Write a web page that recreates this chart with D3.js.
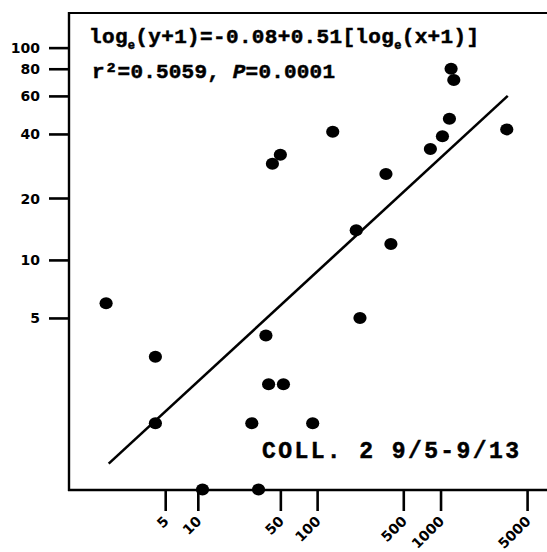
<!DOCTYPE html>
<html>
<head>
<meta charset="utf-8">
<script src="https://cdn.jsdelivr.net/npm/d3@7"></script>
<style>
  body { margin: 0; background: #fff; }
  svg { display: block; }
  .tick-label { font-family: 'DejaVu Sans', sans-serif; font-weight: bold; font-size: 14px; fill: #000; }
  .mono { font-family: 'Liberation Mono', 'Courier New', monospace; font-weight: bold; fill: #000; stroke: #000; stroke-width: 0.5px; }
</style>
</head>
<body>
<div class="chart"></div>
<script>
// data (counts, log(x+1) / log(y+1) axes)
const xCounts = [1, 4, 38, 40, 53, 4, 29, 92, 11, 33, 1217, 1280, 1180, 3427, 1036, 828, 134, 50, 43, 362, 208, 397, 223];
const yCounts = [6, 3, 4, 2, 2, 1, 1, 1, 0, 0, 80, 71, 47, 42, 39, 34, 41, 32, 29, 26, 14, 12, 5];

// ends of the drawn regression line
const fitX = [1.1, 3490];
const fitY = [0.31, 60];

const xTicks = [5, 10, 50, 100, 500, 1000, 5000];
const yTicks = [5, 10, 20, 40, 60, 80, 100];

const w = 547;
const h = 552;

const svg = d3.select('.chart')
  .append('svg')
    .attr('width', w)
    .attr('height', h);

// log(x+1) scales
const xScale = d3.scaleSymlog().constant(1)
  .domain([0, 7240])
  .range([68.8, 547]);

const yScale = d3.scaleSymlog().constant(1)
  .domain([0, 144])
  .range([489.5, 13]);

//frame top line
svg.append('line')
  .attr('x1', 68).attr('y1', 13)
  .attr('x2', w).attr('y2', 13)
  .attr('stroke', '#000')
  .attr('stroke-width', 2.2);

//y axis
const yAxis = svg.append('g')
  .attr('transform', 'translate(69,0)')
  .call(d3.axisLeft(yScale).tickValues(yTicks).tickSize(20).tickSizeOuter(0).tickPadding(9).tickFormat(d3.format('d')));

yAxis.select('.domain').attr('d', 'M0,12V491');
yAxis.selectAll('.tick text')
  .attr('class', 'tick-label')
  .attr('dy', '0.36em');

//x axis
const xAxis = svg.append('g')
  .attr('transform', 'translate(0,490)')
  .call(d3.axisBottom(xScale).tickValues(xTicks).tickSize(21).tickSizeOuter(0).tickFormat(d3.format('d')));

xAxis.select('.domain').attr('d', 'M68,0H547');
xAxis.selectAll('.tick text')
  .attr('class', 'tick-label')
  .attr('x', 0)
  .attr('y', 0)
  .attr('dy', null)
  .attr('text-anchor', 'end')
  .attr('transform', 'translate(4,32) rotate(-45)');

svg.selectAll('.domain').attr('stroke', '#000').attr('stroke-width', 2.4);
svg.selectAll('.tick line').attr('stroke', '#000').attr('stroke-width', 2.6);

//regression line
const fit = fitX.map((x, i) => [x, fitY[i]]);
svg.append('path')
  .datum(fit)
  .attr('d', d3.line().x(d => xScale(d[0])).y(d => yScale(d[1])))
  .attr('stroke', '#000')
  .attr('stroke-width', 2.6)
  .attr('fill', 'none');

//points
svg.append('g')
  .selectAll('ellipse')
  .data(xCounts.map((x, i) => ({ x: x, y: yCounts[i] })))
  .enter().append('ellipse')
    .attr('cx', d => xScale(d.x))
    .attr('cy', d => yScale(d.y))
    .attr('rx', 6.6)
    .attr('ry', 6)
    .attr('fill', '#000');

//equation text
const eq = svg.append('text')
  .attr('class', 'mono')
  .attr('x', 89)
  .attr('y', 42.5)
  .style('font-size', '21px')
  .attr('textLength', 390)
  .attr('lengthAdjust', 'spacing');
eq.append('tspan').text('log');
eq.append('tspan').attr('dy', 6).style('font-size', '12px').text('e');
eq.append('tspan').attr('dy', -6).text('(y+1)=-0.08+0.51[log');
eq.append('tspan').attr('dy', 6).style('font-size', '12px').text('e');
eq.append('tspan').attr('dy', -6).text('(x+1)]');

const stats = svg.append('text')
  .attr('class', 'mono')
  .attr('x', 92)
  .attr('y', 77.5)
  .style('font-size', '21px')
  .attr('textLength', 243)
  .attr('lengthAdjust', 'spacing');
stats.append('tspan').text('r\u00b2=0.5059, ');
stats.append('tspan').style('font-style', 'italic').text('P');
stats.append('tspan').text('=0.0001');

//collection label
svg.append('text')
  .attr('class', 'mono')
  .attr('x', 262)
  .attr('y', 458)
  .style('font-size', '23px')
  .attr('textLength', 257)
  .attr('lengthAdjust', 'spacing')
  .text('COLL. 2 9/5-9/13');
</script>
</body>
</html>
